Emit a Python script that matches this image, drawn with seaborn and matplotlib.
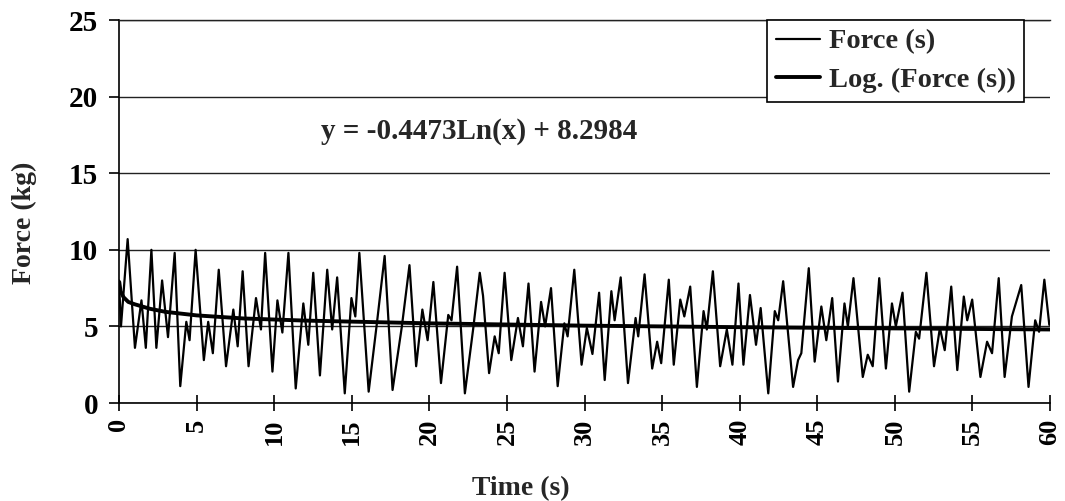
import numpy as np
import pandas as pd
import matplotlib
matplotlib.use("Agg")
import matplotlib.pyplot as plt
import seaborn as sns

# -----------------------------
# Data
# -----------------------------
time_s = [0.0, 0.13, 0.56, 1.03, 1.45, 1.73, 2.09, 2.41, 2.78, 3.16,
          3.59, 3.95, 4.34, 4.55, 4.94, 5.47, 5.75, 6.05, 6.43, 6.90,
          7.37, 7.65, 7.97, 8.35, 8.83, 9.15, 9.42, 9.89, 10.21, 10.53,
          10.92, 11.39, 11.88, 12.20, 12.52, 12.95, 13.42, 13.74, 14.06, 14.55,
          14.98, 15.23, 15.49, 16.09, 16.62, 17.12, 17.63, 18.23, 18.72, 19.15,
          19.55, 19.89, 20.26, 20.75, 21.22, 21.43, 21.79, 22.29, 22.82, 23.25,
          23.46, 23.85, 24.21, 24.47, 24.85, 25.28, 25.71, 26.03, 26.39, 26.78,
          27.20, 27.46, 27.84, 28.27, 28.70, 28.91, 29.34, 29.81, 30.15, 30.51,
          30.94, 31.30, 31.73, 31.94, 32.33, 32.80, 33.29, 33.46, 33.87, 34.36,
          34.68, 34.94, 35.43, 35.75, 36.17, 36.43, 36.81, 37.24, 37.67, 37.88,
          38.27, 38.74, 39.17, 39.53, 39.92, 40.24, 40.66, 41.05, 41.35, 41.84,
          42.26, 42.48, 42.80, 43.44, 43.76, 43.97, 44.45, 44.83, 45.26, 45.58,
          45.96, 46.33, 46.75, 46.97, 47.33, 47.93, 48.25, 48.57, 48.99, 49.42,
          49.81, 50.06, 50.49, 50.92, 51.35, 51.56, 52.03, 52.52, 52.90, 53.21,
          53.63, 54.02, 54.44, 54.66, 54.98, 55.51, 55.94, 56.26, 56.69, 57.07,
          57.54, 58.14, 58.61, 59.04, 59.29, 59.63, 59.95]
force_kg = [8.0, 5.0, 10.7, 3.6, 6.7, 3.6, 10.0, 3.6, 8.0, 4.3,
            9.8, 1.1, 5.3, 4.1, 10.0, 2.8, 5.3, 3.25, 8.7, 2.4,
            6.1, 3.7, 8.6, 2.4, 6.85, 4.8, 9.8, 2.05, 6.7, 4.6,
            9.8, 0.95, 6.5, 3.8, 8.5, 1.8, 8.7, 4.8, 8.2, 0.63,
            6.85, 5.65, 9.8, 0.74, 5.2, 9.6, 0.85, 5.0, 9.0, 2.4,
            6.1, 4.1, 7.9, 1.3, 5.75, 5.4, 8.9, 0.63, 4.8, 8.5,
            7.0, 1.95, 4.35, 3.25, 8.5, 2.8, 5.55, 3.7, 7.8, 2.05,
            6.6, 5.0, 7.5, 1.1, 5.2, 4.35, 8.7, 2.5, 4.9, 3.2,
            7.2, 1.5, 7.3, 5.4, 8.2, 1.3, 5.55, 4.35, 8.4, 2.25,
            4.0, 2.6, 8.05, 2.5, 6.75, 5.65, 7.6, 1.05, 6.0, 4.8,
            8.6, 2.4, 4.8, 2.5, 7.8, 2.5, 7.05, 3.8, 6.2, 0.63,
            6.0, 5.4, 7.95, 1.05, 2.8, 3.25, 8.8, 2.7, 6.3, 4.1,
            6.85, 1.4, 6.5, 5.0, 8.15, 1.7, 3.15, 2.4, 8.15, 2.25,
            6.5, 5.0, 7.2, 0.74, 4.65, 4.2, 8.5, 2.4, 4.9, 3.45,
            7.6, 2.15, 6.95, 5.4, 6.75, 1.7, 4.0, 3.25, 8.15, 1.7,
            5.65, 7.7, 1.05, 5.4, 4.65, 8.05, 5.1]

# log trend line as drawn on the chart
trend_time = [0.02, 0.1, 0.3, 0.6, 1, 2, 3, 5, 8, 12, 20, 30, 40, 50, 60]
trend_force = [7.9, 7.3, 6.9, 6.6, 6.45, 6.15, 5.95, 5.72, 5.52, 5.38,
               5.2, 5.05, 4.95, 4.87, 4.8]

x_ticks = list(range(0, 61, 5))
y_ticks = list(range(0, 26, 5))
equation = "y = -0.4473Ln(x) + 8.2984"

df_force = pd.DataFrame({"time": time_s, "force": force_kg})
df_trend = pd.DataFrame({"time": trend_time, "force": trend_force})

# -----------------------------
# Style
# -----------------------------
sns.set_style("white")
plt.rcParams["font.family"] = ["Liberation Serif", "DejaVu Serif"]
plt.rcParams["font.weight"] = "bold"

fig = plt.figure(figsize=(10.65, 5.01), dpi=100)
ax = fig.add_axes([0.1117, 0.1956, 0.8743, 0.7644])

sns.lineplot(data=df_force, x="time", y="force", ax=ax, color="black",
             linewidth=1.6, estimator=None, sort=False, label="Force (s)")
sns.lineplot(data=df_trend, x="time", y="force", ax=ax, color="black",
             linewidth=2.8, estimator=None, sort=False, label="Log. (Force (s))")

ax.set_xlim(0, 60)
ax.set_ylim(0, 25)
ax.set_xticks(x_ticks)
ax.set_yticks(y_ticks)
ax.set_xticklabels([str(v) for v in x_ticks], rotation=90,
                   fontsize=19, fontweight="bold")
ax.set_yticklabels([str(v) for v in y_ticks], fontsize=21, fontweight="bold")

ax.yaxis.grid(True, color="#222222", linewidth=1.0)
ax.xaxis.grid(False)
ax.set_axisbelow(True)

for side in ["left", "bottom"]:
    ax.spines[side].set_color("black")
    ax.spines[side].set_linewidth(1.2)
ax.spines["right"].set_visible(False)
ax.spines["top"].set_color("#222222")
ax.spines["top"].set_linewidth(1.0)

ax.tick_params(axis="x", direction="inout", length=12, width=1.2, pad=5,
               bottom=True, colors="black")
ax.tick_params(axis="y", direction="out", length=7, width=1.2, pad=8,
               left=True, colors="black")

ax.set_xlabel("Time (s)", fontsize=20, fontweight="bold")
ax.set_ylabel("Force (kg)", fontsize=20, fontweight="bold")
ax.xaxis.set_label_coords(0.432, -0.19)
ax.yaxis.set_label_coords(-0.088, 0.47)

ax.text(13.0, 17.7, equation, fontsize=21, fontweight="bold",
        ha="left", va="center")

leg = ax.legend(loc="upper right", bbox_to_anchor=(0.972, 1.0),
                prop={"size": 20.5, "weight": "bold"}, frameon=True,
                fancybox=False, borderpad=0.3, labelspacing=0.45,
                handlelength=1.55, handletextpad=0.3, borderaxespad=0)
leg.get_frame().set_edgecolor("black")
leg.get_frame().set_linewidth(1.2)
leg.get_frame().set_alpha(1)

fig.savefig("out.png", dpi=100)
